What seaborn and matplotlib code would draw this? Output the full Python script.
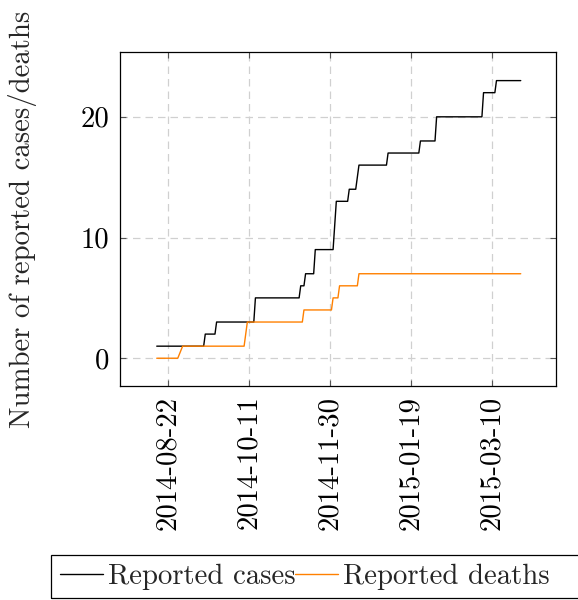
import pandas as pd
import seaborn as sns
import matplotlib.pyplot as plt
from matplotlib.lines import Line2D
from matplotlib.patches import Rectangle

case_dates = ["2014-08-15", "2014-09-13", "2014-09-14", "2014-09-20", "2014-09-21",
              "2014-10-14", "2014-10-15", "2014-11-11", "2014-11-12", "2014-11-14",
              "2014-11-15", "2014-11-20", "2014-11-21", "2014-12-02", "2014-12-04",
              "2014-12-11", "2014-12-12", "2014-12-16", "2014-12-17", "2014-12-18",
              "2015-01-04", "2015-01-05", "2015-01-24", "2015-01-25", "2015-02-03",
              "2015-02-04", "2015-03-04", "2015-03-05", "2015-03-12", "2015-03-13",
              "2015-03-28"]
case_values = [1, 1, 2, 2, 3,
               3, 5, 5, 6, 6,
               7, 7, 9, 9, 13,
               13, 14, 14, 15, 16,
               16, 17, 17, 18, 18,
               20, 20, 22, 22, 23,
               23]

death_dates = ["2014-08-15", "2014-08-28", "2014-08-31", "2014-10-08", "2014-10-10",
               "2014-11-13", "2014-11-14", "2014-12-01", "2014-12-02", "2014-12-05",
               "2014-12-06", "2014-12-17", "2014-12-18", "2015-03-28"]
death_values = [0, 0, 1, 1, 3,
                3, 4, 4, 5, 5,
                6, 6, 7, 7]

series_names = ["Reported cases", "Reported deaths"]
series_colors = ["black", "#ff8000"]
tick_dates = ["2014-08-22", "2014-10-11", "2014-11-30", "2015-01-19", "2015-03-10"]
y_ticks = [0, 10, 20]

df = pd.concat([
    pd.DataFrame({"date": pd.to_datetime(case_dates), "value": case_values, "series": series_names[0]}),
    pd.DataFrame({"date": pd.to_datetime(death_dates), "value": death_values, "series": series_names[1]}),
], ignore_index=True)

sns.set_theme(style="white")
plt.rcParams.update({
    "font.family": "serif",
    "font.serif": ["cmr10"],
    "axes.formatter.use_mathtext": True,
    "mathtext.fontset": "cm",
})

FS = 20.7
fig = plt.figure(figsize=(5.78, 6), dpi=100)
W, H = 578, 600
l, r, t, b = 120, 556, 52, 386
ax = fig.add_axes([l / W, 1 - b / H, (r - l) / W, (b - t) / H])

palette = dict(zip(series_names, series_colors))
sns.lineplot(data=df, x="date", y="value", hue="series", palette=palette,
             linewidth=1.0, ax=ax, legend=False, estimator=None)

ax.set_xlim(pd.Timestamp("2014-07-23 07:00"), pd.Timestamp("2015-04-18 19:00"))
ax.set_ylim(-2.3, 25.37)
ax.set_xticks(pd.to_datetime(tick_dates))
ax.set_xticklabels(tick_dates, rotation=90)
ax.set_yticks(y_ticks)
ax.set_yticklabels([str(v) for v in y_ticks])
ax.set_xlabel("")
ax.set_ylabel("Number of reported cases/deaths", fontsize=FS)
ax.yaxis.set_label_coords((37 - l) / (r - l), 0.5)

ax.grid(True, linestyle=(0, (6, 4)), color="#d0d0d0", linewidth=0.9)
ax.tick_params(axis="both", which="major", direction="in", length=4, width=0.8,
               color="#555555", labelsize=FS, top=True, right=True,
               bottom=True, left=True, labelcolor="black")
ax.tick_params(axis="x", pad=7)
ax.tick_params(axis="y", pad=8)
for s in ax.spines.values():
    s.set_color("black")
    s.set_linewidth(0.9)

handles = [Line2D([], [], color=c, linewidth=1.0) for c in series_colors]
leg = fig.legend(handles, series_names, loc="upper left",
                 bbox_to_anchor=(51 / W, 1 - 555 / H), ncol=2, fontsize=FS,
                 frameon=False, handlelength=1.5, handletextpad=0.17,
                 columnspacing=0.0, borderpad=0.3, borderaxespad=0)

# legend frame extends past the right edge of the figure, as in the reference
frame = Rectangle((51 / W, 1 - 598 / H), (600 - 51) / W, (598 - 555) / H,
                  transform=fig.transFigure, fill=False, edgecolor="black",
                  linewidth=0.9, clip_on=False)
fig.patches.append(frame)

fig.savefig("out.png", dpi=100)
